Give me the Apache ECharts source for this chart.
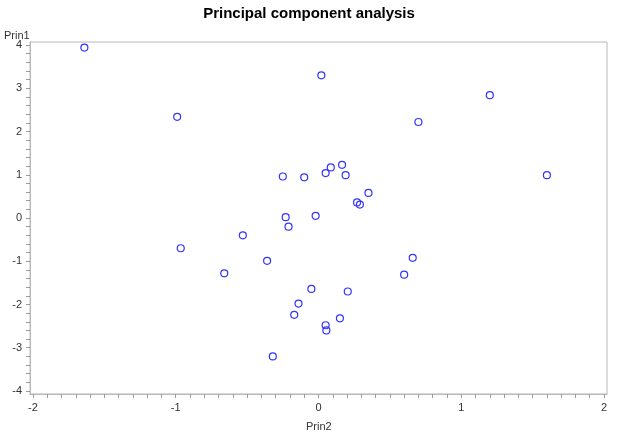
<!DOCTYPE html>
<html><head><meta charset="utf-8">
<script src="https://cdn.jsdelivr.net/npm/echarts@6/dist/echarts.min.js"></script>
<style>html,body{margin:0;padding:0;background:#fff}#c{width:618px;height:435px}</style>
</head><body><div id="c"></div>
<script>
const prin2 = [-1.64,0.02,-0.99,-0.25,-0.10,0.05,-0.23,-0.02,-0.21,1.20,0.70,0.086,0.165,0.19,0.35,0.27,0.29,1.60,-0.53,-0.965,-0.66,-0.36,-0.05,-0.14,-0.17,-0.32,0.66,0.60,0.205,0.15,0.05,0.055];
const prin1 = [3.94,3.30,2.34,0.96,0.94,1.04,0.02,0.05,-0.20,2.84,2.22,1.17,1.23,0.99,0.58,0.36,0.31,0.99,-0.40,-0.70,-1.28,-0.99,-1.64,-1.98,-2.24,-3.20,-0.92,-1.31,-1.70,-2.32,-2.48,-2.60];
const xLabels = [-2,-1,0,1,2];
const yLabels = [-4,-3,-2,-1,0,1,2,3,4];
const xTicks = []; for (let i=-20;i<=20;i++) xTicks.push(i/10);
const yTicks = []; for (let i=-20;i<=20;i++) yTicks.push(i/5);
const pts = prin2.map((x,i)=>[x,prin1[i]]);
const chart = echarts.init(document.getElementById('c'));
const lbl = {color:'#333',fontSize:11,fontFamily:'Liberation Sans, Arial'};
chart.setOption({
  animation:false,
  title:{text:'Principal component analysis',left:'center',top:1,textStyle:{fontSize:15,fontWeight:'bold',color:'#000',fontFamily:'Liberation Sans, Arial'}},
  graphic:[
    {type:'text',left:4,top:30,style:{text:'Prin1',fontSize:11,fill:'#333',fontFamily:'Liberation Sans, Arial'}},
    {type:'text',left:306,top:421,style:{text:'Prin2',fontSize:11,fill:'#333',fontFamily:'Liberation Sans, Arial'}}
  ],
  grid:{left:30,right:11,top:42,bottom:41,show:true,borderColor:'#b8b8b8',borderWidth:1},
  xAxis:{type:'value',min:-2.021,max:2.021,
    axisLine:{onZero:false,lineStyle:{color:'#b8b8b8'}},splitLine:{show:false},
    axisTick:{customValues:xTicks,length:4,lineStyle:{color:'#999'}},
    axisLabel:{customValues:xLabels,...lbl,margin:8}},
  yAxis:{type:'value',min:-4.07,max:4.07,
    axisLine:{show:true,onZero:false,lineStyle:{color:'#b8b8b8'}},splitLine:{show:false},
    axisTick:{show:true,customValues:yTicks,length:4,lineStyle:{color:'#999'}},
    axisLabel:{customValues:yLabels,...lbl,margin:8}},
  series:[{type:'scatter',data:pts,symbol:'circle',symbolSize:7,z:5,
    itemStyle:{color:'rgba(255,255,255,0)',borderColor:'#3333ff',borderWidth:1.2,opacity:1}}]
});
</script></body></html>
